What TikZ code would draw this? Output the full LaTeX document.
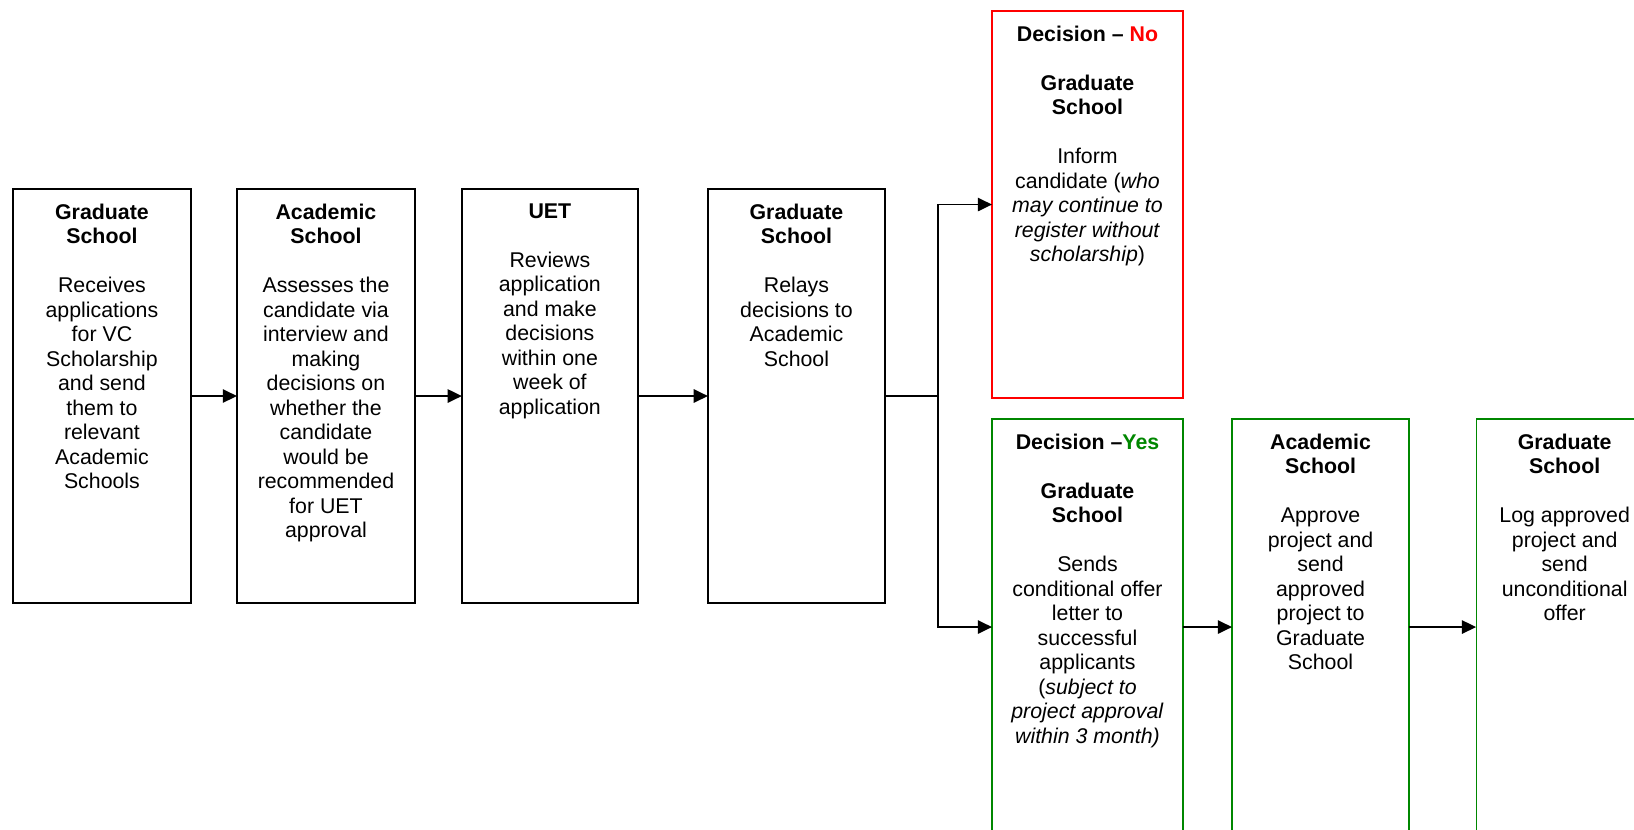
\documentclass[tikz,border=0pt]{standalone}
\usepackage{fontspec}
\setmainfont{Liberation Sans}
\usepackage{xcolor}
\usetikzlibrary{arrows.meta, positioning}
\definecolor{okgreen}{RGB}{0,135,0}
\newcommand{\boxtext}[3]{\parbox[t][#2][t]{#1}{\centering\vspace*{8.2pt}#3}}

\begin{document}
\begin{tikzpicture}[
    every node/.style={draw, rectangle, inner sep=0pt, outer sep=0pt, line width=0.7pt, font=\fontsize{12}{13.8}\selectfont},
    nobox/.style={draw=red},
    yesbox/.style={draw=okgreen},
    link/.style={-{Triangle[length=8pt,width=7.5pt]}, line width=1pt}
    ]

    \useasboundingbox (0,0) rectangle (919.1pt,-466.3pt);

    \node[anchor=north west] (recv) at (7.3pt,-106.3pt)
        {\boxtext{100.1pt}{232.9pt}{\textbf{Graduate\\School}\\[13.8pt]Receives\\applications\\for VC\\Scholarship\\and send\\them to\\relevant\\Academic\\Schools}};
    \node[right=25.9pt of recv] (assess)
        {\boxtext{100.1pt}{232.9pt}{\textbf{Academic\\School}\\[13.8pt]Assesses the\\candidate via\\interview and\\making\\decisions on\\whether the\\candidate\\would be\\recommended\\for UET\\approval}};
    \node[right=26.4pt of assess] (uet)
        {\boxtext{99pt}{232.9pt}{\textbf{UET}\\[13.8pt]Reviews\\application\\and make\\decisions\\within one\\week of\\application}};
    \node[right=39.4pt of uet] (relay)
        {\boxtext{99.6pt}{232.9pt}{\textbf{Graduate\\School}\\[13.8pt]Relays\\decisions to\\Academic\\School}};

    \node[nobox, anchor=north west] (no) at (558pt,-6.2pt)
        {\boxtext{107.4pt}{217.7pt}{\textbf{Decision – \textcolor{red}{No}}\\[13.8pt]\textbf{Graduate\\School}\\[13.8pt]Inform\\candidate (\textit{who}\\\textit{may continue to}\\\textit{register without}\\\textit{scholarship})}};
    \node[yesbox, below=11.8pt of no] (yes)
        {\boxtext{107.4pt}{234pt}{\textbf{Decision –\textcolor{okgreen}{Yes}}\\[13.8pt]\textbf{Graduate\\School}\\[13.8pt]Sends\\conditional offer\\letter to\\successful\\applicants\\(\textit{subject to}\\\textit{project approval}\\\textit{within 3 month)}}};
    \node[yesbox, right=27.6pt of yes] (approve)
        {\boxtext{99.6pt}{234pt}{\textbf{Academic\\School}\\[13.8pt]Approve\\project and\\send\\approved\\project to\\Graduate\\School}};
    \node[yesbox, right=37.7pt of approve] (logoffer)
        {\boxtext{99.6pt}{234pt}{\textbf{Graduate\\School}\\[13.8pt]Log approved\\project and\\send\\unconditional\\offer}};

    \coordinate[right=29.8pt of relay.east] (fork);

    \draw[link] (recv) -- (assess);
    \draw[link] (assess) -- (uet);
    \draw[link] (uet) -- (relay);
    \draw[link] (relay) -- (fork) |- (no);
    \draw[link] (fork) |- (yes);
    \draw[link] (yes) -- (approve);
    \draw[link] (approve) -- (logoffer);

\end{tikzpicture}
\end{document}
